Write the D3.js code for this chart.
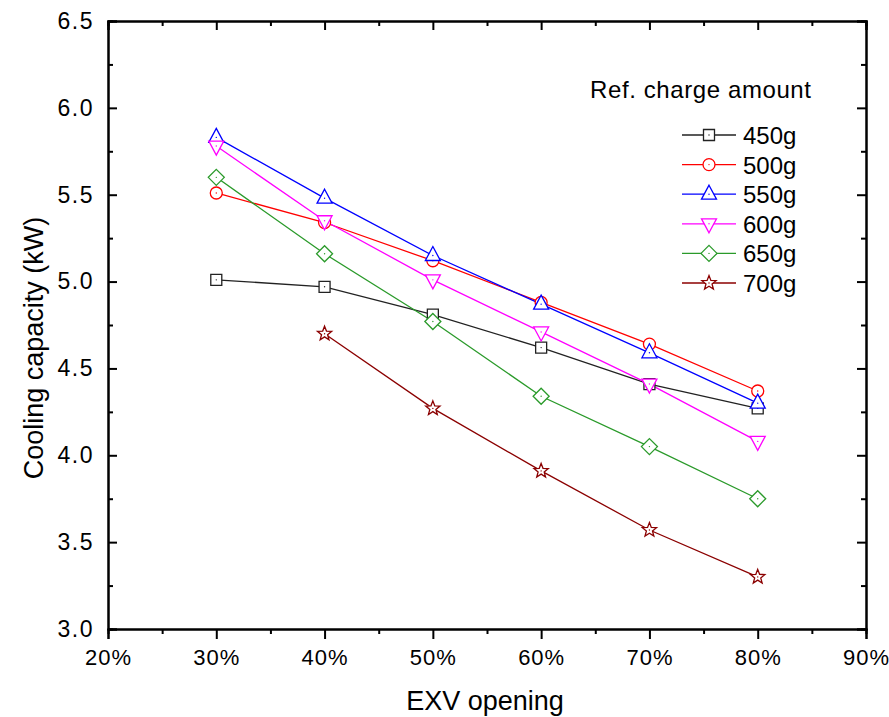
<!DOCTYPE html>
<html>
<head>
<meta charset="utf-8">
<script src="https://cdn.jsdelivr.net/npm/d3@7"></script>
<style>
  body { margin: 0; background: #fff; }
  text { font-family: "Liberation Sans", Arial, sans-serif; fill: #000; }
</style>
</head>
<body>
<div id="chart"></div>
<script>
// EXV opening (%)
var openings = [30, 40, 50, 60, 70, 80];
var seriesNames = ['450g', '500g', '550g', '600g', '650g', '700g'];
var colors = ['#222222', '#ff0000', '#0000ff', '#ff00ff', '#2a9a2a', '#8b0000'];
var shapes = ['square', 'circle', 'triangle', 'triangleDown', 'diamond', 'star'];

var cap450 = [5.01, 4.97, 4.81, 4.62, 4.41, 4.27];
var cap500 = [5.51, 5.34, 5.12, 4.88, 4.64, 4.37];
var cap550 = [5.83, 5.48, 5.15, 4.87, 4.59, 4.30];
var cap600 = [5.78, 5.35, 5.01, 4.71, 4.41, 4.08];
var cap650 = [5.60, 5.16, 4.77, 4.34, 4.05, 3.75];
var cap700 = [null, 4.70, 4.27, 3.91, 3.57, 3.30];
var allValues = [cap450, cap500, cap550, cap600, cap650, cap700];

var xTicks = [20, 30, 40, 50, 60, 70, 80, 90];
var yTicks = [3.0, 3.5, 4.0, 4.5, 5.0, 5.5, 6.0, 6.5];

var width = 889, height = 717;
var margin = {top: 21, right: 23, bottom: 88, left: 108};
var drawWidth = width - margin.left - margin.right;
var drawHeight = height - margin.top - margin.bottom;

var svg = d3.select('#chart').append('svg')
    .attr('width', width)
    .attr('height', height);

var g = svg.append('g')
    .attr('transform', 'translate(' + margin.left + ',' + margin.top + ')');

var xScale = d3.scaleLinear().domain([20, 90]).range([0, drawWidth]);
var yScale = d3.scaleLinear().domain([3.0, 6.5]).range([drawHeight, 0]);

var xMinor = d3.range(25, 90, 10);
var yMinor = d3.range(3.25, 6.5, 0.5);

// bottom axis (ticks outward)
var xAxis = d3.axisBottom(xScale).tickValues(xTicks)
    .tickFormat(function(d) { return d + '%'; })
    .tickSize(10).tickPadding(10);
var xg = g.append('g').attr('transform', 'translate(0,' + drawHeight + ')').call(xAxis);
g.append('g').attr('transform', 'translate(0,' + drawHeight + ')')
    .call(d3.axisBottom(xScale).tickValues(xMinor).tickSize(5).tickFormat(''));

// left axis (ticks inward)
var yAxis = d3.axisLeft(yScale).tickValues(yTicks)
    .tickFormat(d3.format('.1f'))
    .tickSize(-9).tickPadding(14);
var yg = g.append('g').call(yAxis);
g.append('g').call(d3.axisLeft(yScale).tickValues(yMinor).tickSize(-5).tickFormat(''));

// top and right axes (ticks inward)
g.append('g').call(d3.axisTop(xScale).tickValues(xTicks).tickSize(-9).tickFormat(''));
g.append('g').call(d3.axisTop(xScale).tickValues(xMinor).tickSize(-5).tickFormat(''));
g.append('g').attr('transform', 'translate(' + drawWidth + ',0)')
    .call(d3.axisRight(yScale).tickValues(yTicks).tickSize(-9).tickFormat(''));
g.append('g').attr('transform', 'translate(' + drawWidth + ',0)')
    .call(d3.axisRight(yScale).tickValues(yMinor).tickSize(-5).tickFormat(''));

g.selectAll('.domain').attr('stroke', '#000').attr('stroke-width', 2);
g.selectAll('.tick line').attr('stroke', '#000').attr('stroke-width', 2);
g.selectAll('.tick text')
    .style('font-family', '"Liberation Sans", Arial, sans-serif').attr('fill', '#000');
yg.selectAll('.tick text').style('font-size', '23px').style('letter-spacing', '1.5px');
xg.selectAll('.tick text').style('font-size', '22px').style('letter-spacing', '1px');

// axis titles
svg.append('text')
    .attr('transform', 'translate(' + 485 + ',' + 710 + ')')
    .attr('text-anchor', 'middle')
    .style('font-size', '27px')
    .text('EXV opening');

svg.append('text')
    .attr('transform', 'translate(' + 43 + ',' + 348 + ') rotate(-90)')
    .attr('text-anchor', 'middle')
    .style('font-size', '27px')
    .text('Cooling capacity (kW)');

// marker path generator
function markerPath(shape) {
    var s;
    if (shape === 'square') return 'M-5.5,-5.5H5.5V5.5H-5.5Z';
    if (shape === 'circle') return 'M6,0A6,6 0 1,1 -6,0A6,6 0 1,1 6,0Z';
    if (shape === 'triangle') return 'M0,-9L7.5,5L-7.5,5Z';
    if (shape === 'triangleDown') return 'M0,9L7.5,-5L-7.5,-5Z';
    if (shape === 'diamond') return 'M0,-8L8,0L0,8L-8,0Z';
    if (shape === 'star') {
        s = '';
        for (var i = 0; i < 10; i++) {
            var r = i % 2 === 0 ? 7.5 : 3.2;
            var a = -Math.PI / 2 + i * Math.PI / 5;
            s += (i === 0 ? 'M' : 'L') + (r * Math.cos(a)).toFixed(2) + ',' + (r * Math.sin(a)).toFixed(2);
        }
        return s + 'Z';
    }
}

var line = d3.line()
    .x(function(d) { return xScale(d.x); })
    .y(function(d) { return yScale(d.y); });

var series = seriesNames.map(function(name, i) {
    return {
        name: name, color: colors[i], shape: shapes[i],
        points: openings.map(function(x, j) { return {x: x, y: allValues[i][j]}; })
            .filter(function(d) { return d.y != null; })
    };
});

var plot = g.append('g');

series.forEach(function(s) {
    plot.append('path')
        .attr('d', line(s.points))
        .attr('fill', 'none')
        .attr('stroke', s.color)
        .attr('stroke-width', 1.3);
});

series.forEach(function(s) {
    var m = plot.selectAll(null).data(s.points).enter().append('g')
        .attr('transform', function(d) { return 'translate(' + xScale(d.x) + ',' + yScale(d.y) + ')'; });
    m.append('path')
        .attr('d', markerPath(s.shape))
        .attr('fill', '#fff')
        .attr('stroke', s.color)
        .attr('stroke-width', 1.3);
    m.append('circle').attr('r', 0.7).attr('fill', s.color);
});

// legend
var legend = svg.append('g');
legend.append('text')
    .attr('x', 590).attr('y', 98)
    .style('font-size', '24px')
    .style('letter-spacing', '0.6px')
    .text('Ref. charge amount');

series.forEach(function(s, i) {
    var ly = 135 + i * 29.6;
    var row = legend.append('g').attr('transform', 'translate(0,' + ly + ')');
    row.append('line')
        .attr('x1', 682).attr('x2', 736)
        .attr('y1', 0).attr('y2', 0)
        .attr('stroke', s.color).attr('stroke-width', 1.3);
    var mk = row.append('g').attr('transform', 'translate(709,0)');
    mk.append('path')
        .attr('d', markerPath(s.shape))
        .attr('fill', '#fff')
        .attr('stroke', s.color)
        .attr('stroke-width', 1.3);
    mk.append('circle').attr('r', 0.7).attr('fill', s.color);
    row.append('text')
        .attr('x', 743).attr('y', 9)
        .style('font-size', '24px')
        .text(s.name);
});
</script>
</body>
</html>
